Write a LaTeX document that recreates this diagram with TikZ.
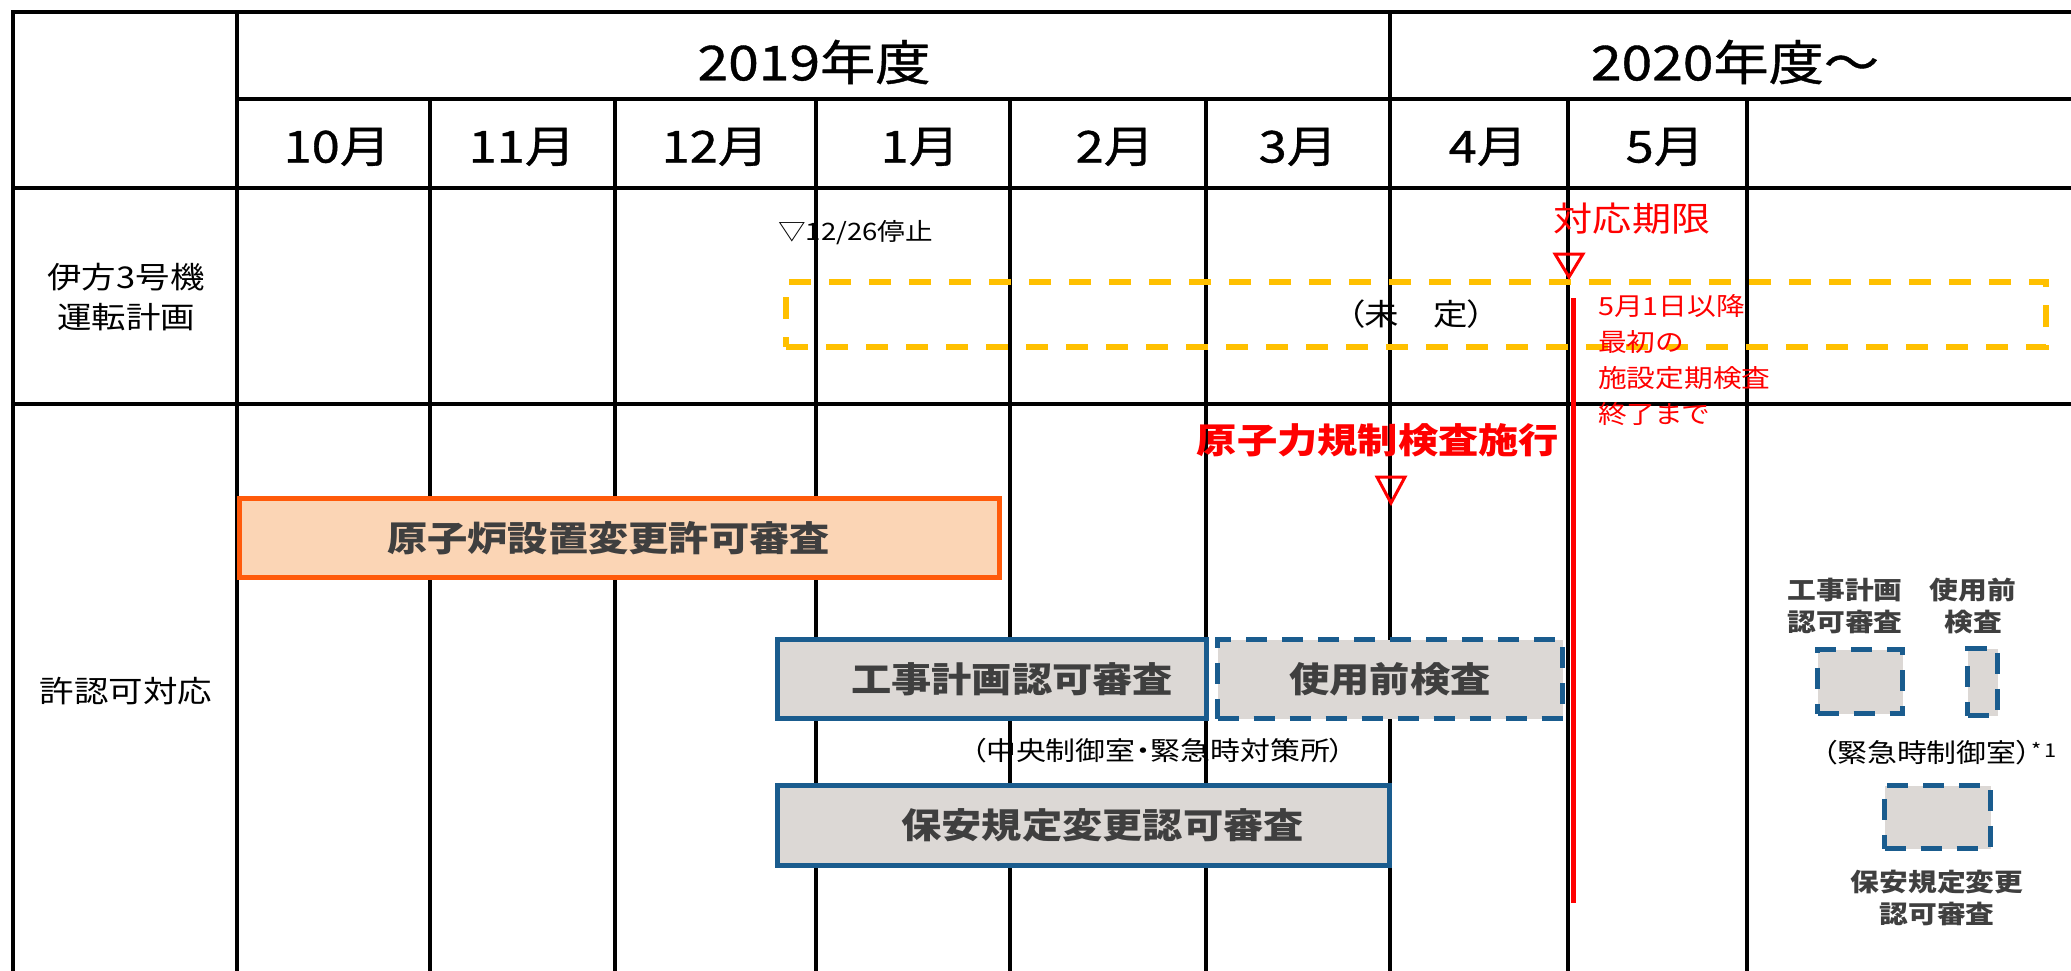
\documentclass[tikz,border=0pt]{standalone}
\usepackage{fontspec}
\setmainfont{Noto Sans CJK JP}[FakeStretch=1.15,RawFeature=+palt]
\newfontfamily\hdfont{Noto Sans CJK JP}[FakeStretch=1.15,RawFeature=+palt,FakeBold=0.8]
\newcommand\fsz[2]{\fontsize{#1}{#2}\selectfont}
\definecolor{gold}{HTML}{FFC000}
\definecolor{orangeb}{HTML}{FF5A0A}
\definecolor{peach}{HTML}{FBD5B5}
\definecolor{blueb}{HTML}{1A5C8E}
\definecolor{grayf}{HTML}{DCD8D5}
\definecolor{txtgray}{HTML}{3F3F3F}
\definecolor{redc}{HTML}{FF0000}
\begin{document}
\begin{tikzpicture}[x=1pt,y=-1pt,
  grid/.style={line width=3.5pt,black,line cap=rect},
  yr/.style={font=\hdfont\fsz{48}{54},inner sep=0},
  mon/.style={font=\hdfont\fsz{44}{50},inner sep=0},
  rowlab/.style={font=\fsz{30}{40},align=center,inner sep=0},
  obox/.style={draw=orangeb,fill=peach,line width=5pt,minimum width=760,minimum height=79,inner sep=0,font=\bfseries\fsz{35}{40},text=txtgray},
  bbox/.style={draw=blueb,fill=grayf,line width=5pt,inner sep=0,font=\bfseries\fsz{35}{40},text=txtgray},
  bdash/.style={bbox,dash pattern=on 21pt off 15pt},
  ybox/.style={draw=gold,line width=5.5pt,dash pattern=on 22pt off 18pt,minimum width=1260,minimum height=65,inner sep=0,font=\fsz{30}{36}},
  redtxt/.style={text=redc,inner sep=0},
  redmark/.style={draw=redc,line width=3pt,line join=miter},
  leg/.style={font=\bfseries\fsz{25}{32},text=txtgray,align=center,inner sep=0},
  note/.style={font=\fsz{26}{30},inner sep=0}
]
\useasboundingbox[fill=white] (0,0) rectangle (2071,971);

% ---- table grid ----
\draw[grid] (13,12) -- (2071,12);
\draw[grid] (13,12) -- (13,971);
\draw[grid] (237,12) -- (237,971);
\draw[grid] (237,99) -- (2071,99);
\draw[grid] (13,188) -- (2071,188);
\draw[grid] (13,404) -- (2071,404);
\draw[grid] (1390,12) -- (1390,971);
\foreach \x in {430,615,816,1010,1206,1568,1747}
  \draw[grid] (\x,99) -- (\x,971);

% ---- headers ----
\node[yr] (y2019) at (814,62) {2019年度};
\node[yr] (y2020) at (1735,62) {2020年度～};
\node[mon] (m10) at (337,147) {10月};
\node[mon] (m11) at (522,147) {11月};
\node[mon] (m12) at (715,147) {12月};
\node[mon] (m1)  at (920,147) {1月};
\node[mon] (m2)  at (1115,147) {2月};
\node[mon] (m3)  at (1298,147) {3月};
\node[mon] (m4)  at (1488,147) {4月};
\node[mon] (m5)  at (1665,147) {5月};

% ---- row labels ----
\node[rowlab] (r1) at (126,297) {伊方3号機\\運転計画};
\node[rowlab] (r2) at (126,691) {許認可対応};

% ---- operation plan ----
\node[font=\fsz{24}{28},inner sep=0,anchor=west] (stop) at (778,233) {▽12/26停止};
\node[ybox] (plan) at (1416,314.5) {（未　定）};

\node[redtxt,font=\fsz{34}{40}] (deadline) at (1632,219) {対応期限};
\draw[redmark] (1555,254) -- (1583,254) -- (1569,277) -- cycle;
\coordinate (redtop) at (1573,298);
\coordinate (redbot) at (1573,903);
\node[redtxt,font=\fsz{25}{36},anchor=north west,align=left] (until) at (1598,294)
  {5月1日以降\\最初の\\施設定期検査\\終了まで};

% ---- approval boxes ----
\node[obox] (genshiro) at (619.5,538) {原子炉設置変更許可審査\hspace*{22pt}};
\node[bbox,minimum width=429,minimum height=79] (koji) at (992,679) {\hspace*{40pt}工事計画認可審査};
\node[bdash,minimum width=345,minimum height=79] (shiyo) at (1390,679) {使用前検査};
\node[note] (chuo) at (1158,751) {（中央制御室・緊急時対策所）};
\node[bbox,minimum width=612,minimum height=80] (hoan) at (1083.5,825.5) {\hspace*{38pt}保安規定変更認可審査};

\node[redtxt,font=\bfseries\fsz{35}{40}] (kisei) at (1378,440) {原子力規制検査施行};
\draw[redmark] (1377,477) -- (1405,477) -- (1391,503) -- cycle;

\draw[redc,line width=5pt] (redtop) -- (redbot);

% ---- legend ----
\node[leg] (lg1) at (1845,606) {工事計画\\認可審査};
\node[leg] (lg2) at (1973,606) {使用前\\検査};
\node[bdash,minimum width=85,minimum height=64] (lb1) at (1860,681.5) {};
\node[bdash,minimum width=30,minimum height=67] (lb2) at (1982.5,682) {};
\node[note,anchor=west] (kinkyu) at (1822,753) {（緊急時制御室）\raisebox{5pt}{\fsz{19}{19}*\,1}};
\node[bdash,minimum width=106,minimum height=63] (lb3) at (1937.5,817) {};
\node[leg] (lg3) at (1937,898) {保安規定変更\\認可審査};
\end{tikzpicture}
\end{document}
